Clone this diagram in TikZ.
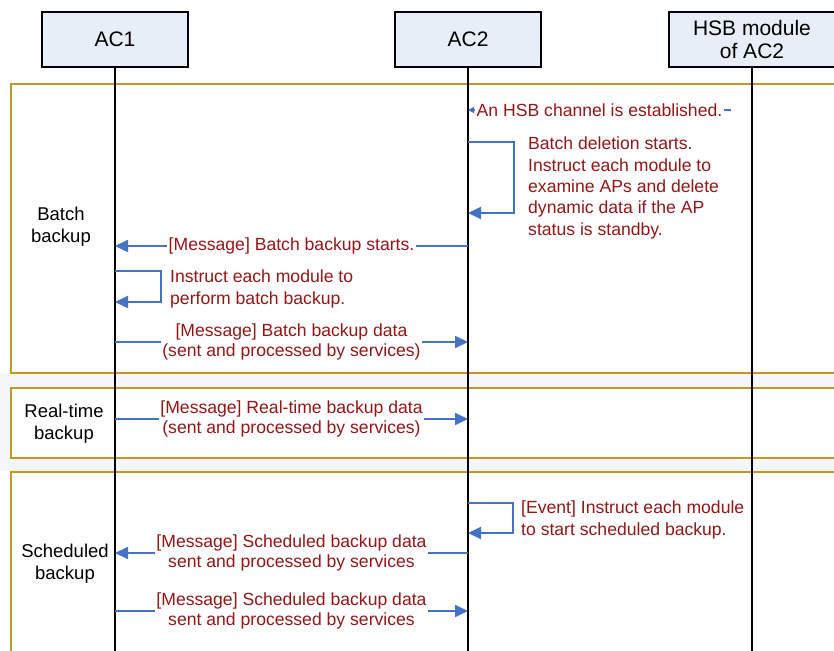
\documentclass[tikz,border=0pt]{standalone}
\usepackage{fontspec}
\setmainfont{Liberation Sans}
\usetikzlibrary{arrows.meta}
\definecolor{hdrfill}{RGB}{232,238,247}
\definecolor{frameclr}{RGB}{196,152,32}
\definecolor{msgred}{RGB}{150,22,22}
\definecolor{arrowblue}{RGB}{68,114,196}
\definecolor{gapfill}{RGB}{243,246,251}
\begin{document}
\begin{tikzpicture}[x=1pt,y=-1pt,
  actor/.style={draw=black,line width=1.3pt,fill=hdrfill,minimum width=146pt,minimum height=55pt,inner sep=0pt,align=center,font=\fontsize{21}{23}\selectfont},
  lifeline/.style={line width=1.3pt},
  phase/.style={draw=frameclr,line width=2.4pt,fill=white},
  msg/.style={draw=arrowblue,line width=1.8pt,-{Triangle[length=13pt,width=12pt]}},
  msgtxt/.style={text=msgred,font=\fontsize{17.6}{20.8}\selectfont,align=center,fill=white,inner sep=1.5pt},
  sidetxt/.style={text=msgred,font=\fontsize{17.6}{21.3}\selectfont,align=left,anchor=west,inner sep=0pt},
  phtxt/.style={font=\fontsize{18.5}{22}\selectfont,align=center,inner sep=0pt},
]
\useasboundingbox (0,0) rectangle (834,650);
\clip (0,0) rectangle (834,650);
% background gaps
\fill[gapfill] (0,373) rectangle (834,471);
% phase frames
\draw[phase] (11,84) rectangle (850,373);
\draw[phase] (11,388) rectangle (850,458);
\draw[phase] (11,472) rectangle (850,670);
% actors
\node[actor] (ac1) at (115,39.5) {AC1};
\node[actor] (ac2) at (468,39.5) {AC2};
\node[actor,minimum width=166pt] (hsb) at (752,39.5) {HSB module\\of AC2};
% lifelines
\coordinate (ac1end) at (115,660);
\coordinate (ac2end) at (468,660);
\coordinate (hsbend) at (752,660);
\draw[lifeline] (ac1.south) -- (ac1end);
\draw[lifeline] (ac2.south) -- (ac2end);
\draw[lifeline] (hsb.south) -- (hsbend);
% phase labels
\node[phtxt] (pbatch) at (61,227) {Batch\\backup};
\node[phtxt] (preal) at (64,424) {Real-time\\backup};
\node[phtxt] (psched) at (65,564) {Scheduled\\backup};
% batch backup phase
\coordinate (m1s) at (731,110);
\coordinate (m1e) at (468,110);
\draw[msg,line width=1.3pt,-{Triangle[length=6pt,width=6pt]}] (m1s) -- node[msgtxt] (m1t) {An HSB channel is established.} (m1e);
\coordinate (s1s) at (468,142);
\coordinate (s1e) at (468,213);
\draw[msg] (s1s) -- ++(46,0) |- (s1e);
\node[sidetxt] (s1t) at (528,188) {Batch deletion starts.\\Instruct each module to\\examine APs and delete\\dynamic data if the AP\\status is standby.};
\coordinate (m2s) at (468,246);
\coordinate (m2e) at (115,246);
\draw[msg] (m2s) -- node[msgtxt] (m2t) {[Message] Batch backup starts.} (m2e);
\coordinate (s2s) at (115,271);
\coordinate (s2e) at (115,302);
\draw[msg] (s2s) -- ++(46,0) |- (s2e);
\node[sidetxt] (s2t) at (170,289) {Instruct each module to\\perform batch backup.};
\coordinate (m3s) at (115,342);
\coordinate (m3e) at (468,342);
\draw[msg] (m3s) -- node[msgtxt] (m3t) {[Message] Batch backup data\\(sent and processed by services)} (m3e);
% real-time backup phase
\coordinate (m4s) at (115,419);
\coordinate (m4e) at (468,419);
\draw[msg] (m4s) -- node[msgtxt] (m4t) {[Message] Real-time backup data\\(sent and processed by services)} (m4e);
% scheduled backup phase
\coordinate (s3s) at (468,503);
\coordinate (s3e) at (468,533);
\draw[msg] (s3s) -- ++(45,0) |- (s3e);
\node[sidetxt] (s3t) at (521,520) {[Event] Instruct each module\\to start scheduled backup.};
\coordinate (m5s) at (468,553);
\coordinate (m5e) at (115,553);
\draw[msg] (m5s) -- node[msgtxt] (m5t) {[Message] Scheduled backup data\\sent and processed by services} (m5e);
\coordinate (m6s) at (115,611);
\coordinate (m6e) at (468,611);
\draw[msg] (m6s) -- node[msgtxt] (m6t) {[Message] Scheduled backup data\\sent and processed by services} (m6e);
\end{tikzpicture}
\end{document}
